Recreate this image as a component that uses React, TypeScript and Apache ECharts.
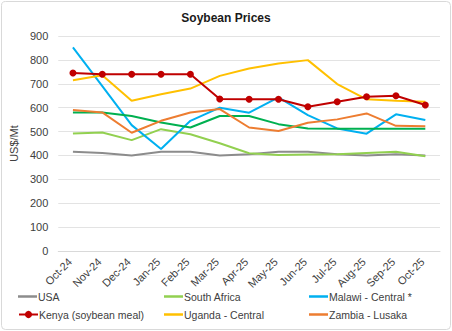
import React, { useEffect, useRef } from "react";
import * as echarts from "echarts";

const months = ["Oct-24","Nov-24","Dec-24","Jan-25","Feb-25","Mar-25","Apr-25","May-25","Jun-25","Jul-25","Aug-25","Sep-25","Oct-25"];
const usa = [415, 410, 400, 415, 415, 400, 405, 415, 415, 405, 400, 405, 400];
const southAfrica = [492, 496, 464, 510, 489, 451, 409, 402, 404, 405, 410, 415, 397];
const malawi = [852, 690, 527, 427, 545, 600, 579, 643, 569, 513, 491, 572, 548];
const kenya = [745, 740, 740, 740, 740, 636, 635, 635, 604, 625, 646, 650, 611];
const uganda = [715, 736, 629, 656, 680, 733, 764, 785, 799, 699, 635, 629, 625];
const zambia = [590, 580, 495, 545, 580, 594, 517, 502, 537, 551, 576, 524, 522];
const otherMarket = [580, 580, 565, 538, 517, 565, 565, 531, 513, 512, 512, 512, 512];

const legendNames = ["USA", "South Africa", "Malawi - Central *", "Kenya (soybean meal)", "Uganda - Central", "Zambia - Lusaka"];

export default function App() {
  const ref = useRef<HTMLDivElement>(null);
  useEffect(() => {
    document.body.style.margin = "0";
    const chart = echarts.init(ref.current!, undefined, { renderer: "svg" });
    const font = "Liberation Sans, Arial, sans-serif";
    const line = (name: string, data: number[], color: string, z = 2) => ({
      name,
      type: "line",
      data,
      symbol: "none",
      z,
      lineStyle: { color, width: 2 },
      itemStyle: { color },
    });
    const legendPos = [
      [18, 291], [164, 291], [309, 291],
      [18, 309], [164, 309], [309, 309],
    ];
    chart.setOption({
      animation: false,
      textStyle: { fontFamily: font },
      title: {
        text: "Soybean Prices",
        left: "center",
        top: 7,
        textStyle: { fontSize: 12, fontWeight: "bold", color: "#1a1a1a", fontFamily: font },
      },
      graphic: [
        {
          type: "rect",
          shape: { x: 1.5, y: 1.5, width: 449, height: 328, r: 4 },
          style: { fill: "none", stroke: "#d9d9d9", lineWidth: 1 },
          silent: true,
        },
      ],
      legend: legendNames.map((n, i) => {
        const isKenya = n.startsWith("Kenya");
        return {
          data: [n],
          left: legendPos[i][0],
          top: legendPos[i][1],
          icon: isKenya ? undefined : "rect",
          itemWidth: 19,
          itemHeight: isKenya ? 9 : 2.5,
          itemGap: 2,
          padding: 0,
          textStyle: { fontSize: 10.5, color: "#404040", fontFamily: font, padding: [0, 0, 0, -4] },
        };
      }),
      grid: { left: 41, right: 12, top: 36, bottom: 80 },
      xAxis: {
        type: "category",
        data: months,
        boundaryGap: true,
        axisLine: { show: true, lineStyle: { color: "#d9d9d9" } },
        axisTick: { show: false },
        axisLabel: { rotate: 45, fontSize: 11, color: "#404040", margin: 6, interval: 0, padding: [0, 4, 0, 0] },
      },
      yAxis: {
        type: "value",
        min: 0,
        max: 900,
        interval: 100,
        name: "US$/Mt",
        nameLocation: "middle",
        nameGap: 30,
        nameTextStyle: { fontSize: 11, color: "#404040" },
        axisLine: { show: false },
        axisTick: { show: false },
        axisLabel: { fontSize: 11, color: "#404040", margin: 10 },
        splitLine: { lineStyle: { color: "#e3e3e3" } },
      },
      series: [
        line("USA", usa, "#8c8c8c"),
        line("South Africa", southAfrica, "#92D050"),
        line("Malawi - Central *", malawi, "#00B0F0"),
        line("Other market", otherMarket, "#00B050"),
        line("Zambia - Lusaka", zambia, "#ED7D31"),
        line("Uganda - Central", uganda, "#FFC000"),
        {
          ...line("Kenya (soybean meal)", kenya, "#C00000", 5),
          symbol: "circle",
          symbolSize: 7,
          showSymbol: true,
        },
      ],
    });
    return () => chart.dispose();
  }, []);
  return <div ref={ref} style={{ width: 452, height: 331 }} />;
}
